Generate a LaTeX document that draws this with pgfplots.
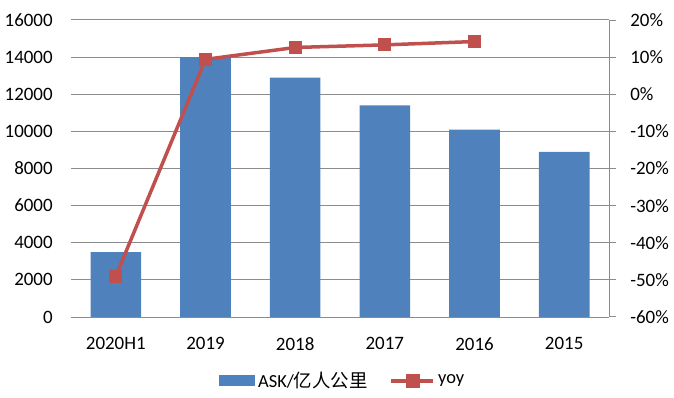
\documentclass[border=0pt]{standalone}
\usepackage{fontspec}
\setmainfont{Carlito}
\newfontfamily\cjk{Noto Sans CJK SC}
\usepackage{pgfplots}
\pgfplotsset{compat=1.18}
\definecolor{barblue}{HTML}{4F81BD}
\definecolor{linered}{HTML}{C0504D}
\definecolor{gridgray}{HTML}{8C8C8C}
\begin{document}
\fontsize{18.5}{21}\selectfont
\begin{tikzpicture}
\useasboundingbox (0,0) rectangle (674bp,398bp);
\begin{axis}[
  at={(71bp,81bp)}, anchor=south west,
  scale only axis, width=538bp, height=297bp,
  xmin=-0.5, xmax=5.5, ymin=0, ymax=16000,
  scaled y ticks=false,
  xtick={0,...,5}, xticklabels={2020H1,2019,2018,2017,2016,2015},
  ytick={0,2000,...,16000},
  yticklabels={0,2000,4000,6000,8000,10000,12000,14000,16000},
  axis x line*=bottom, axis y line*=left,
  y axis line style={draw=none},
  x axis line style={gridgray, line width=1bp, -},
  major tick length=0pt,
  ymajorgrids, grid style={gridgray, line width=1bp},
  tick label style={font=\fontsize{19}{21}\selectfont, text=black},
  yticklabel style={xshift=-12bp},
  xticklabel style={yshift=-14bp},
  legend style={draw=none, fill=none, at={(0.506,-0.215)}, anchor=center,
    legend columns=2, font=\fontsize{18.5}{21}\selectfont,
    nodes={inner xsep=3bp},
    /tikz/every even column/.append style={column sep=19bp}},
]
\addplot[ybar, bar width=0.565, fill=barblue, draw=none,
  legend image code/.code={\fill[barblue] (0bp,-5.5bp) rectangle (36bp,5.5bp);}]
  coordinates {(0,3500) (1,14000) (2,12900) (3,11400) (4,10100) (5,8890)};
\addlegendentry{ASK/{\cjk 亿人公里}}
\addlegendimage{legend image code/.code={
  \draw[linered, line width=3.5bp] (0bp,0bp) -- (42bp,0bp);
  \fill[linered] (14.5bp,-6.5bp) rectangle (27.5bp,6.5bp);}}
\addlegendentry{yoy}
\end{axis}
\begin{axis}[
  at={(71bp,81bp)}, anchor=south west,
  scale only axis, width=538bp, height=297bp,
  xmin=-0.5, xmax=5.5, ymin=-60, ymax=20,
  axis x line=none, axis y line*=right,
  ytick={-60,-50,...,20},
  yticklabels={-60\%,-50\%,-40\%,-30\%,-20\%,-10\%,0\%,10\%,20\%},
  y axis line style={gridgray, line width=1bp, -},
  ytick style={gridgray, line width=1bp},
  tick align=outside, major tick length=7bp,
  tick label style={font=\fontsize{19}{21}\selectfont, text=black},
  yticklabel style={xshift=8bp},
]
\addplot[linered, line width=3.5bp, mark=square*, mark size=6bp,
  mark options={solid, line width=1bp, fill=linered}]
  coordinates {(0,-49) (1,9.4) (2,12.6) (3,13.3) (4,14.2)};
\end{axis}
\end{tikzpicture}
\end{document}
